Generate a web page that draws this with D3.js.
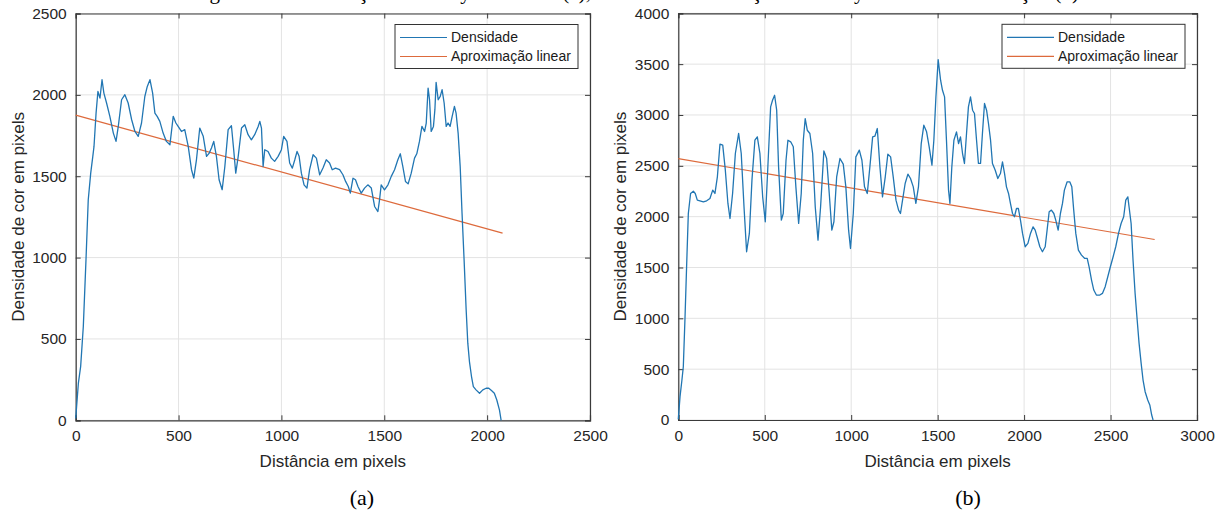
<!DOCTYPE html>
<html><head><meta charset="utf-8">
<script src="https://cdn.jsdelivr.net/npm/d3@7"></script>
<style>
html,body{margin:0;padding:0;background:#fff;}
svg{display:block;}
</style></head>
<body>
<svg id="chart" width="1229" height="516"></svg>
<script>
// ---------- DATA ----------
const distA = [0,13,24,37,50,61,73,83,89,99,108,118,128,137,150,166,183,196,207,223,239,255,272,288,304,320,336,348,361,374,385,396,409,425,441,458,474,487,498,514,530,547,563,574,587,603,620,636,649,660,671,684,697,712,725,741,757,768,778,790,806,822,838,854,870,887,895,903,911,919,935,951,967,984,1000,1011,1027,1040,1053,1065,1076,1086,1097,1110,1124,1137,1154,1170,1186,1202,1218,1234,1247,1263,1283,1299,1312,1325,1335,1348,1360,1372,1388,1404,1420,1437,1453,1469,1477,1485,1501,1518,1534,1550,1566,1578,1590,1603,1616,1631,1647,1658,1671,1683,1696,1704,1713,1720,1728,1739,1746,1752,1762,1772,1781,1791,1801,1810,1820,1830,1841,1849,1859,1869,1878,1888,1898,1906,1914,1924,1933,1946,1963,1979,1995,2008,2021,2035,2047,2060,2068];
const densA = [12,228,330,576,986,1355,1519,1620,1683,1888,2021,1980,2093,2011,1950,1868,1765,1714,1806,1970,2001,1950,1847,1775,1745,1827,1990,2052,2093,2011,1888,1868,1837,1765,1714,1693,1868,1827,1806,1775,1786,1683,1540,1488,1601,1796,1745,1622,1642,1673,1714,1622,1478,1417,1560,1786,1810,1663,1519,1622,1796,1816,1755,1724,1755,1806,1837,1796,1560,1663,1652,1611,1591,1622,1663,1745,1714,1581,1550,1601,1652,1622,1519,1447,1427,1540,1632,1611,1509,1550,1601,1581,1540,1550,1540,1509,1468,1437,1396,1488,1478,1437,1396,1427,1447,1427,1314,1283,1355,1447,1416,1447,1499,1540,1601,1638,1560,1468,1453,1519,1611,1638,1714,1806,1775,1827,2042,1970,1775,1806,1909,2077,1970,1991,2032,1950,1806,1827,1806,1868,1929,1888,1765,1560,1273,986,679,474,361,269,207,187,166,187,197,197,183,166,125,63,0];
const fitAx = [0, 2075];
const fitAy = [1875, 1150];

const distB = [0,10,21,29,39,48,58,71,87,98,110,125,145,164,183,199,212,226,241,257,272,287,299,314,330,349,364,380,395,411,426,443,457,472,488,503,518,534,545,557,569,580,596,607,623,634,650,665,680,696,711,723,734,746,761,777,792,808,823,842,858,873,888,900,916,935,954,969,985,996,1012,1027,1047,1062,1077,1093,1108,1124,1137,1151,1166,1181,1197,1212,1228,1243,1259,1274,1285,1297,1312,1328,1343,1359,1374,1389,1405,1420,1436,1451,1467,1478,1490,1503,1517,1528,1540,1551,1563,1571,1582,1594,1609,1621,1632,1644,1655,1667,1678,1690,1702,1713,1725,1736,1748,1759,1771,1783,1794,1806,1817,1833,1848,1863,1875,1887,1898,1910,1921,1933,1944,1956,1967,1979,1991,2006,2022,2037,2052,2064,2075,2091,2106,2122,2133,2145,2158,2172,2183,2197,2210,2222,2233,2249,2264,2276,2287,2299,2314,2332,2351,2365,2376,2390,2403,2418,2438,2453,2469,2484,2499,2515,2530,2546,2561,2576,2588,2600,2607,2619,2630,2642,2654,2665,2677,2688,2700,2715,2727,2738,2746];
const densB = [7,230,393,524,1016,1507,2031,2228,2251,2228,2162,2156,2146,2156,2179,2261,2228,2392,2713,2703,2457,2130,1982,2228,2621,2818,2621,2097,1655,1835,2359,2752,2785,2621,2195,1950,2490,3080,3145,3194,3047,2490,1966,2031,2555,2752,2736,2687,2293,1933,2228,2752,2965,2850,2818,2621,2097,1769,2097,2647,2572,2228,1867,1950,2392,2572,2516,2293,1867,1687,2031,2588,2654,2555,2293,2228,2490,2785,2791,2867,2490,2195,2392,2615,2588,2392,2162,2064,2031,2162,2326,2418,2375,2293,2130,2293,2719,2900,2834,2687,2506,2752,3178,3545,3342,3243,3178,2752,2261,2130,2490,2752,2834,2719,2785,2621,2523,2818,3080,3178,3047,3014,2752,2523,2523,2818,3113,3047,2916,2752,2523,2457,2375,2424,2539,2424,2293,2228,2130,2031,1999,2080,2080,1966,1835,1704,1737,1835,1900,1868,1802,1704,1655,1704,1868,2048,2064,2031,1966,1868,2031,2130,2261,2343,2343,2293,2064,1835,1671,1622,1589,1589,1507,1376,1278,1229,1229,1245,1311,1409,1507,1606,1704,1835,1933,1999,2162,2195,2097,1933,1573,1245,983,754,557,393,278,197,148,49,0];
const fitBx = [0, 2755];
const fitBy = [2570, 1775];

const xTicksA = [0,500,1000,1500,2000,2500];
const yTicksA = [0,500,1000,1500,2000,2500];
const xTicksB = [0,500,1000,1500,2000,2500,3000];
const yTicksB = [0,500,1000,1500,2000,2500,3000,3500,4000];

const seriesNames = ["Densidade","Aproximação linear"];
const xLabel = "Distância em pixels";
const yLabel = "Densidade de cor em pixels";
const panelLabels = ["(a)","(b)"];
const captionText = "Figura 2 – Distribuição no eixo y da coluna (a), e da nova distribuição no eixo y da coluna iluminação (b)";

// ---------- DRAW ----------
const svg = d3.select("#chart");
const BLUE = "#2176b3", ORANGE = "#dd6a3c";
const AX = "#3a3a3a", GRID = "#e3e3e3";
const SANS = "'Liberation Sans', Arial, sans-serif";
const SERIF = "'Liberation Serif','Times New Roman',serif";

// caption cut off at the top edge in the reference (only descenders visible)
svg.append("text").attr("x", 192).attr("y", -1).text(captionText)
  .style("font-family", SERIF).style("font-size", "21px").attr("fill", "#000");

function panel(cfg){
  const g = svg.append("g");
  const x = d3.scaleLinear().domain(cfg.xDom).range([cfg.left, cfg.right]);
  const y = d3.scaleLinear().domain(cfg.yDom).range([cfg.bottom, cfg.top]);

  // grid
  g.append("g").selectAll("line").data(cfg.xTicks).join("line")
    .attr("x1", d=>x(d)).attr("x2", d=>x(d)).attr("y1", cfg.top).attr("y2", cfg.bottom)
    .attr("stroke", GRID).attr("stroke-width", 1);
  g.append("g").selectAll("line").data(cfg.yTicks).join("line")
    .attr("y1", d=>y(d)).attr("y2", d=>y(d)).attr("x1", cfg.left).attr("x2", cfg.right)
    .attr("stroke", GRID).attr("stroke-width", 1);

  // axes (inside ticks)
  const xb = d3.axisBottom(x).tickValues(cfg.xTicks).tickSize(-5).tickPadding(10).tickFormat(d3.format("d"));
  const xt = d3.axisTop(x).tickValues(cfg.xTicks).tickSize(-5).tickFormat("");
  const yl = d3.axisLeft(y).tickValues(cfg.yTicks).tickSize(-5).tickPadding(9).tickFormat(d3.format("d"));
  const yr = d3.axisRight(y).tickValues(cfg.yTicks).tickSize(-5).tickFormat("");
  const style = s => {
    s.selectAll("path").attr("stroke", AX).attr("stroke-width", 1.2);
    s.selectAll("line").attr("stroke", AX);
    s.selectAll("text").attr("fill", "#262626").style("font-family", SANS).style("font-size", "15.5px");
  };
  g.append("g").attr("transform", `translate(0,${cfg.bottom})`).call(xb).call(style);
  g.append("g").attr("transform", `translate(0,${cfg.top})`).call(xt).call(style);
  g.append("g").attr("transform", `translate(${cfg.left},0)`).call(yl).call(style);
  g.append("g").attr("transform", `translate(${cfg.right},0)`).call(yr).call(style);

  // data
  const line = d3.line().x(d=>x(d[0])).y(d=>y(d[1]));
  g.append("path").datum(cfg.fx.map((v,i)=>[v,cfg.fy[i]]))
    .attr("d", line).attr("fill","none").attr("stroke", ORANGE).attr("stroke-width", 1.2);
  g.append("path").datum(cfg.dx.map((v,i)=>[v,cfg.dy[i]]))
    .attr("d", line).attr("fill","none").attr("stroke", BLUE).attr("stroke-width", 1.3)
    .attr("stroke-linejoin","round");

  // legend
  const lw = 183, lh = 44;
  const lx = cfg.right - 12 - lw, ly = cfg.top + 11;
  const lg = g.append("g").attr("transform", `translate(${lx},${ly})`);
  lg.append("rect").attr("width", lw).attr("height", lh).attr("fill","#fff").attr("stroke","#333").attr("stroke-width",1);
  [BLUE, ORANGE].forEach((c,i)=>{
    const yy = 13 + i*19;
    lg.append("line").attr("x1",5).attr("x2",52).attr("y1",yy).attr("y2",yy).attr("stroke",c).attr("stroke-width",1.2);
    lg.append("text").attr("x",56).attr("y",yy).attr("dy","0.35em").text(seriesNames[i])
      .style("font-family",SANS).style("font-size","14px").attr("fill","#1a1a1a");
  });

  // labels
  const cx = (cfg.left + cfg.right)/2;
  g.append("text").attr("x", cx).attr("y", 467).attr("text-anchor","middle").text(xLabel)
    .style("font-family",SANS).style("font-size","17px").attr("fill","#262626");
  g.append("text").attr("transform", `translate(${cfg.ylabX},${(cfg.top+cfg.bottom)/2}) rotate(-90)`)
    .attr("text-anchor","middle").text(yLabel)
    .style("font-family",SANS).style("font-size","17px").attr("fill","#262626");
  g.append("text").attr("x", cfg.capX).attr("y", 505).attr("text-anchor","middle").text(cfg.cap)
    .style("font-family",SERIF).style("font-size","22px").attr("fill","#000");
}

panel({xDom:[0,2500], yDom:[0,2500], left:75.7, right:590, top:13.5, bottom:420.3,
  xTicks:xTicksA, yTicks:yTicksA, dx:distA, dy:densA, fx:fitAx, fy:fitAy,
  ylabX:24, capX:362, cap:panelLabels[0]});
panel({xDom:[0,3000], yDom:[0,4000], left:678.3, right:1197, top:13.3, bottom:420,
  xTicks:xTicksB, yTicks:yTicksB, dx:distB, dy:densB, fx:fitBx, fy:fitBy,
  ylabX:626, capX:968, cap:panelLabels[1]});
</script>
</body></html>
